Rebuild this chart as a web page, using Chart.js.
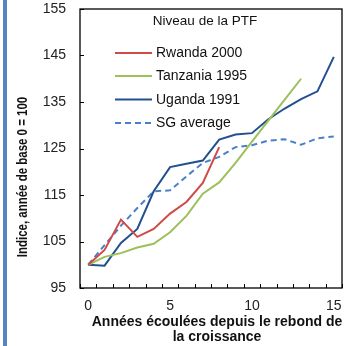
<!DOCTYPE html>
<html>
<head>
<meta charset="utf-8">
<script src="https://cdn.jsdelivr.net/npm/chart.js@4/dist/chart.umd.min.js"></script>
<style>
  html, body { margin: 0; padding: 0; background: #fff; }
  #wrap { width: 352px; height: 346px; position: relative; }
</style>
</head>
<body>
<div id="wrap"><canvas id="ptfChart"></canvas></div>
<script>
// années écoulées depuis le rebond
const years = [0,1,2,3,4,5,6,7,8,9,10,11,12,13,14,15];
const yTicks = [95,105,115,125,135,145,155];

const rwanda2000   = [100, 103.2, 109.7, 106.0, 107.7, 111.0, 113.5, 117.6, 125.3];
const tanzania1995 = [100, 101.7, 102.5, 103.7, 104.5, 107.0, 110.5, 115.3, 117.7, 121.9, 126.5, 131.0, 135.5, 140.0];
const uganda1991   = [100, 99.8, 104.7, 107.7, 115.8, 121.0, 121.7, 122.4, 126.9, 128.0, 128.3, 131.3, 133.6, 135.6, 137.3, 144.7];
const sgAverage    = [100, 104.2, 108.4, 112.2, 115.8, 116.0, 119.0, 121.9, 123.2, 125.3, 125.7, 126.7, 127.0, 125.8, 127.2, 127.6];

const FONT = '"Liberation Sans", Arial, sans-serif';

// frame, inward tick marks, legend box and axis titles
const decorations = {
  id: 'decorations',
  beforeDraw(chart) {
    const ctx = chart.ctx;
    ctx.save();
    ctx.fillStyle = '#5585c5';
    ctx.fillRect(3, 0, 4, 346);
    ctx.fillStyle = '#222';
    ctx.font = '13px ' + FONT;
    ctx.textBaseline = 'middle';
    ctx.fillText(')', -4, 283);
    ctx.restore();
  },
  afterDraw(chart) {
    const { ctx, chartArea: a, scales: { x, y } } = chart;
    ctx.save();
    ctx.strokeStyle = '#000';
    ctx.lineWidth = 1.3;
    ctx.strokeRect(a.left, a.top, a.right - a.left, a.bottom - a.top);

    ctx.lineWidth = 1;
    ctx.beginPath();
    yTicks.forEach(v => {
      const py = Math.round(y.getPixelForValue(v)) + 0.5;
      ctx.moveTo(a.left, py); ctx.lineTo(a.left + 4, py);
    });
    const half = (x.getPixelForValue(1) - x.getPixelForValue(0)) / 2;
    for (let i = 0; i <= years.length; i++) {
      const px = Math.round(x.getPixelForValue(Math.min(i, years.length - 1)) + (i === years.length ? half : -half)) + 0.5;
      ctx.moveTo(px, a.bottom); ctx.lineTo(px, a.bottom - 4);
    }
    ctx.stroke();

    // legend
    ctx.fillStyle = '#111';
    ctx.font = '13.5px ' + FONT;
    ctx.textAlign = 'center';
    ctx.textBaseline = 'middle';
    ctx.fillText('Niveau de la PTF', 205, 21);
    ctx.font = '14px ' + FONT;
    ctx.textAlign = 'left';
    const rows = [53, 76, 99.5, 123];
    chart.data.datasets.forEach((ds, i) => {
      ctx.strokeStyle = ds.borderColor;
      ctx.lineWidth = 2;
      ctx.setLineDash(ds.borderDash || []);
      ctx.beginPath();
      ctx.moveTo(115, rows[i]); ctx.lineTo(152, rows[i]);
      ctx.stroke();
      ctx.setLineDash([]);
      ctx.fillText(ds.label, 156, rows[i] + 0.5);
    });

    // x title
    ctx.font = 'bold 14px ' + FONT;
    ctx.textAlign = 'center';
    ctx.fillText('Années écoulées depuis le rebond de', 217, 322);
    ctx.fillText('la croissance', 217, 337);

    // y title (narrow bold)
    ctx.translate(23, 177);
    ctx.rotate(-Math.PI / 2);
    ctx.scale(0.82, 1);
    ctx.fillText('Indice, année de base 0 = 100', 0, 0);
    ctx.restore();
  }
};

new Chart(document.getElementById('ptfChart'), {
  type: 'line',
  data: {
    labels: years,
    datasets: [
      { label: 'Rwanda 2000', data: rwanda2000, borderColor: '#cf4b48' },
      { label: 'Tanzania 1995', data: tanzania1995, borderColor: '#9cc05a' },
      { label: 'Uganda 1991', data: uganda1991, borderColor: '#22508f' },
      { label: 'SG average', data: sgAverage, borderColor: '#4a80c8', borderDash: [6, 4] }
    ].map(d => Object.assign({ borderWidth: 2, pointRadius: 0, tension: 0, fill: false }, d))
  },
  options: {
    responsive: true, maintainAspectRatio: false, animation: false,
    layout: { padding: { left: 0, right: 10, top: 0, bottom: 0 } },
    plugins: { legend: { display: false }, tooltip: { enabled: false } },
    scales: {
      x: {
        type: 'category', offset: true,
        grid: { display: false, drawTicks: false },
        border: { display: false },
        afterFit: s => { s.height = 58; },
        ticks: {
          autoSkip: false, maxRotation: 0, padding: 10,
          color: '#222', font: { size: 14, family: FONT },
          callback: (v, i) => (years[i] % 5 === 0 ? String(years[i]) : '')
        }
      },
      y: {
        min: 95, max: 155,
        grid: { display: false, drawTicks: false },
        border: { display: false },
        afterFit: s => { s.width = 80; s.paddingTop = 9; },
        afterBuildTicks: s => { s.ticks = yTicks.map(v => ({ value: v })); },
        ticks: { padding: 14, color: '#222', font: { size: 14, family: FONT } }
      }
    }
  },
  plugins: [decorations]
});
</script>
</body>
</html>
